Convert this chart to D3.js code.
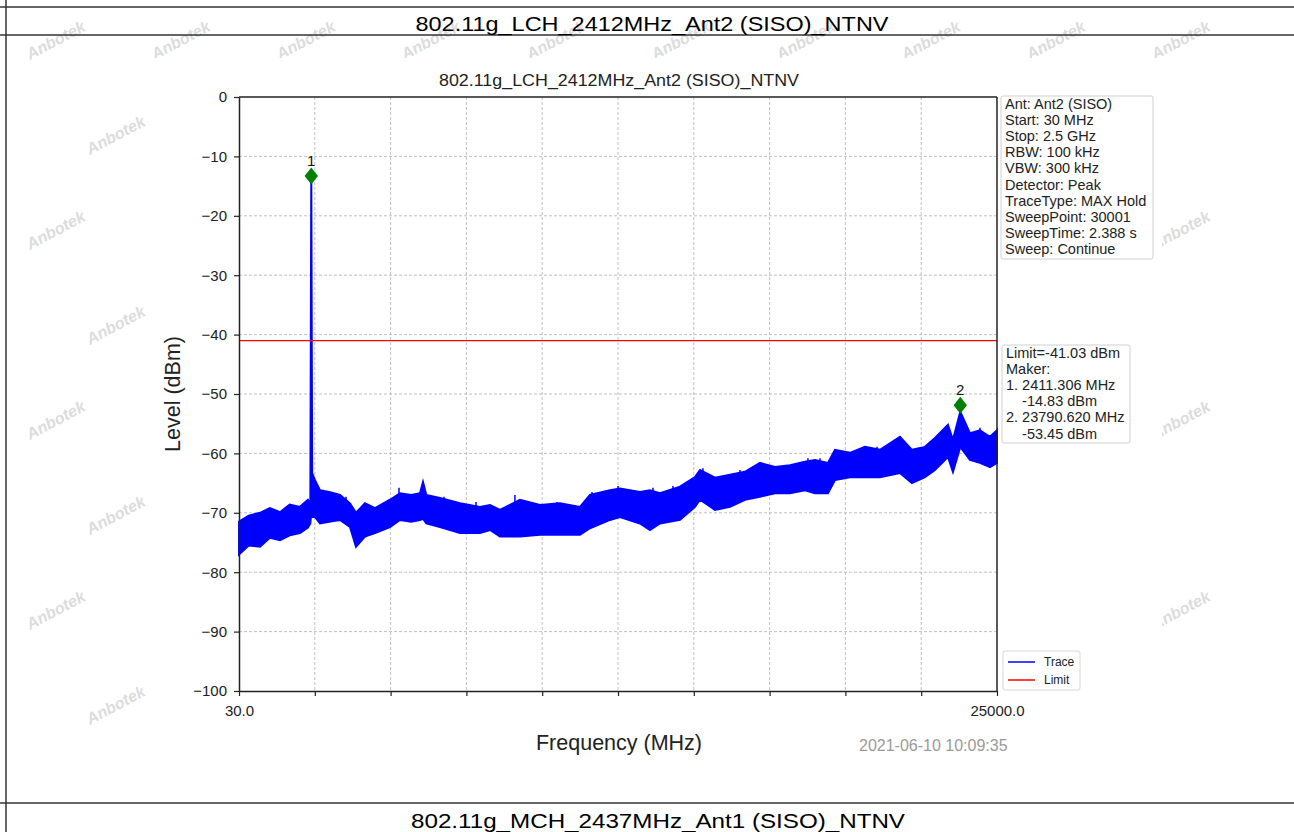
<!DOCTYPE html>
<html>
<head>
<meta charset="utf-8">
<script src="https://cdn.jsdelivr.net/npm/d3@7"></script>
<style>
  body { margin: 0; background: #fff; }
  text { font-family: "Liberation Sans", Arial, sans-serif; }
</style>
</head>
<body>
<div id="container"></div>
<script>
var pageTitle = "802.11g_LCH_2412MHz_Ant2 (SISO)_NTNV";
var nextTitle = "802.11g_MCH_2437MHz_Ant1 (SISO)_NTNV";

// trace envelope (MHz, dBm)
var freqs = [30, 350, 722, 1050, 1381, 1700, 2039, 2300, 2380, 2411, 2440, 2533, 2698, 3000, 3357, 3686, 3884, 4180, 4510, 5004,
  5333, 5700, 5992, 6091, 6200, 6651, 7310, 7969, 8300, 8627, 9286, 9945, 10604, 11263, 11592, 12251, 12580, 13239, 13568, 13898,
  14557, 15051, 15216, 15710, 16204, 16698, 17192, 17686, 18180, 18674, 19003, 19432, 19662, 20156, 20650, 21145, 21803, 22198, 22627, 22956,
  23384, 23549, 23790, 24109, 24439, 24768, 25000];
var upper = [-71.5, -70.5, -70, -69.2, -69.9, -68.6, -69, -67.8, -68.5, -13.3, -63.3, -64.5, -66.2, -66.5, -67, -68.4, -70, -68.4, -69.2, -67.8,
  -66.7, -67, -66.7, -64.8, -67, -67.5, -68.4, -69, -68.7, -69.5, -67.8, -68.7, -68.4, -69, -67, -66.2, -65.9, -66.5, -66.2, -66.7,
  -65.6, -64, -62.8, -64.1, -63.6, -63.1, -61.6, -62.3, -62, -61.4, -61.1, -61.6, -59.4, -59.9, -58.9, -59.4, -57.2, -59.4, -58.9, -57.4,
  -55.2, -57.7, -53, -56.6, -56.1, -57.2, -56.1];
var lower = [-77, -75.5, -75.7, -74.2, -74.6, -73.8, -73.4, -72.5, -71.8, -70, -70.7, -70.7, -71.8, -71.5, -71.2, -72.4, -75.7, -74, -73.4, -72.4,
  -71.2, -71.5, -71.2, -71, -71.8, -72.4, -73.4, -73.4, -72.9, -74, -74, -73.7, -73.7, -73.7, -72.6, -71.2, -70.7, -71.8, -72.9, -71.8,
  -71.2, -69, -67.8, -69.5, -69, -67.8, -67.3, -66.7, -66.7, -66.2, -66.7, -66.7, -64.5, -64, -64, -64, -63.3, -65, -64, -62.8,
  -60.6, -63.1, -58.9, -61.1, -61.6, -62.3, -61.6];

// single noise spikes that stick out of the band
var spikeFreqs = [985, 1578, 2138, 2665, 2995, 3555, 5300, 6783, 7837, 9120, 10505, 11658, 12514, 13667, 14326, 15314, 16533,
  18772, 19168, 21046, 23351, 24439, 24933];
var spikeLevels = [-69.9, -69.6, -68.7, -65.8, -66.7, -67.3, -65.8, -67.3, -68.2, -67, -68.2, -66.5, -65.5, -65.8, -65.5, -62.5, -62.8,
  -60.8, -60.8, -58.9, -55.2, -55.7, -57.2];

var limitLevel = -41.03;
var markerFreqs = [2411.306, 23790.62];
var markerLevels = [-13.3, -51.9];
var markerNames = ["1", "2"];

var yTicks = [-100, -90, -80, -70, -60, -50, -40, -30, -20, -10, 0];
var xTicks = [30, 2527, 5024, 7521, 10018, 12515, 15012, 17509, 20006, 22503, 25000];

var infoLines = ["Ant: Ant2 (SISO)", "Start: 30 MHz", "Stop: 2.5 GHz", "RBW: 100 kHz", "VBW: 300 kHz",
  "Detector: Peak", "TraceType: MAX Hold", "SweepPoint: 30001", "SweepTime: 2.388 s", "Sweep: Continue"];
var markerLines = ["Limit=-41.03 dBm", "Maker:", "1. 2411.306 MHz", "    -14.83 dBm", "2. 23790.620 MHz", "    -53.45 dBm"];
var legendNames = ["Trace", "Limit"];
var legendColors = ["#0000ff", "#ff0000"];
var stamp = "2021-06-10 10:09:35";

var width = 1294,
height = 832;

var svg = d3.select("#container")
.append("svg")
.attr("width", width)
.attr("height", height)
.style("display", "block");

svg.append("rect").attr("width", width).attr("height", height).attr("fill", "#fff");

// watermark (behind the figure)
var wm = svg.append("g").attr("fill", "#dcdcdc");
for (var r = 0; r < 9; r++) {
  for (var c = 0; c < 11; c++) {
    var wx = 30 + c * 125 + (r % 2) * 60;
    var wy = 60 + r * 95;
    if (wx > 1210 || wy > 800) continue;
    wm.append("text")
    .attr("transform", "translate(" + wx + "," + wy + ") rotate(-28)")
    .attr("font-size", 16)
    .attr("font-weight", "bold")
    .attr("font-style", "italic")
    .text("Anbotek");
  }
}

// figure background covers the watermark
svg.append("rect").attr("x", 150).attr("y", 58).attr("width", 1012).attr("height", 710).attr("fill", "#fff");

// table borders
var tb = svg.append("g").attr("stroke", "#333").attr("stroke-width", 1.5);
tb.append("line").attr("x1", 0).attr("x2", width).attr("y1", 7).attr("y2", 7);
tb.append("line").attr("x1", 0).attr("x2", width).attr("y1", 35).attr("y2", 35);
tb.append("line").attr("x1", 0).attr("x2", width).attr("y1", 803).attr("y2", 803);
tb.append("line").attr("x1", 6).attr("x2", 6).attr("y1", 0).attr("y2", height);

svg.append("text").attr("x", 652).attr("y", 31).attr("text-anchor", "middle")
.attr("font-size", 21).attr("textLength", 473).attr("lengthAdjust", "spacingAndGlyphs")
.attr("fill", "#000").text(pageTitle);
svg.append("text").attr("x", 658).attr("y", 828).attr("text-anchor", "middle")
.attr("font-size", 20).attr("textLength", 494).attr("lengthAdjust", "spacingAndGlyphs")
.attr("fill", "#000").text(nextTitle);

// plot
var x = d3.scaleLinear().domain([30, 25000]).range([239, 997]);
var y = d3.scaleLinear().domain([-100, 0]).range([691, 97]);

var grid = svg.append("g");
grid.selectAll("line.gx")
.data(xTicks.slice(1, -1))
.enter()
.append("line")
.attr("x1", function(d) { return x(d); })
.attr("x2", function(d) { return x(d); })
.attr("y1", y(0)).attr("y2", y(-100))
.attr("stroke", "#b0b0b0").attr("stroke-width", 0.8).attr("stroke-dasharray", "3,2");
grid.selectAll("line.gy")
.data(yTicks.slice(1, -1))
.enter()
.append("line")
.attr("x1", x(30)).attr("x2", x(25000))
.attr("y1", function(d) { return y(d); })
.attr("y2", function(d) { return y(d); })
.attr("stroke", "#b0b0b0").attr("stroke-width", 0.8).attr("stroke-dasharray", "3,2");

var trace = freqs.map(function(f, i) { return { f: f, hi: upper[i], lo: lower[i] }; });

var area = d3.area()
.x(function(d) { return x(d.f); })
.y0(function(d) { return y(d.lo); })
.y1(function(d) { return y(d.hi); });

svg.append("path")
.datum(trace)
.attr("d", area)
.attr("fill", "#0000ff")
.attr("stroke", "#0000ff")
.attr("stroke-width", 2)
.attr("stroke-linejoin", "miter");

var lowAt = d3.scaleLinear().domain(freqs).range(lower);
svg.append("g").selectAll("line")
.data(spikeFreqs)
.enter()
.append("line")
.attr("x1", function(d) { return x(d); })
.attr("x2", function(d) { return x(d); })
.attr("y1", function(d) { return y(lowAt(d)); })
.attr("y2", function(d, i) { return y(spikeLevels[i]); })
.attr("stroke", "#0000ff")
.attr("stroke-width", 1.5);

svg.append("line")
.attr("x1", x(30)).attr("x2", x(25000))
.attr("y1", y(limitLevel)).attr("y2", y(limitLevel))
.attr("stroke", "#ff0000").attr("stroke-width", 1.2);

// markers
var mk = svg.append("g");
mk.selectAll("path")
.data(markerFreqs)
.enter()
.append("path")
.attr("d", d3.symbol().type(d3.symbolDiamond).size(85))
.attr("transform", function(d, i) { return "translate(" + x(d) + "," + y(markerLevels[i]) + ") scale(1.35,1)"; })
.attr("fill", "#008000");
mk.selectAll("text")
.data(markerFreqs)
.enter()
.append("text")
.attr("x", function(d) { return x(d); })
.attr("y", function(d, i) { return y(markerLevels[i]) - 10; })
.attr("text-anchor", "middle")
.attr("font-size", 15)
.attr("fill", "#111")
.text(function(d, i) { return markerNames[i]; });

// axes
var xAxis = svg.append("g")
.attr("transform", "translate(0," + y(-100) + ")")
.call(d3.axisBottom(x).tickValues(xTicks).tickSize(5).tickSizeOuter(0)
  .tickFormat(function(d) { return (d === 30 || d === 25000) ? d.toFixed(1) : ""; }));
xAxis.select(".domain").attr("stroke", "#222").attr("stroke-width", 1.5);
xAxis.selectAll(".tick line").attr("stroke", "#222").attr("stroke-width", 1.2);
xAxis.selectAll("text").attr("font-size", 15).attr("fill", "#222").attr("dy", "1.1em")
.attr("font-family", "'Liberation Sans', Arial, sans-serif");

var yAxis = svg.append("g")
.attr("transform", "translate(" + x(30) + ",0)")
.call(d3.axisLeft(y).tickValues(yTicks).tickSize(5).tickSizeOuter(0)
  .tickFormat(function(d) { return d < 0 ? "\u2212" + Math.abs(d) : d; }));
yAxis.select(".domain").attr("stroke", "#222").attr("stroke-width", 1.5);
yAxis.selectAll(".tick line").attr("stroke", "#222").attr("stroke-width", 1.2);
yAxis.selectAll("text").attr("font-size", 15).attr("fill", "#222").attr("x", -12)
.attr("font-family", "'Liberation Sans', Arial, sans-serif");

svg.append("line").attr("x1", x(30)).attr("x2", x(25000)).attr("y1", y(0)).attr("y2", y(0))
.attr("stroke", "#222").attr("stroke-width", 1.5);
svg.append("line").attr("x1", x(25000)).attr("x2", x(25000)).attr("y1", y(0)).attr("y2", y(-100))
.attr("stroke", "#222").attr("stroke-width", 1.5);

svg.append("text").attr("x", 619).attr("y", 86).attr("text-anchor", "middle")
.attr("font-size", 16).attr("textLength", 360).attr("lengthAdjust", "spacingAndGlyphs")
.attr("fill", "#222").text(pageTitle);

svg.append("text").attr("x", 619).attr("y", 750).attr("text-anchor", "middle")
.attr("font-size", 21.5).attr("fill", "#222").text("Frequency (MHz)");
svg.append("text").attr("transform", "translate(180,394) rotate(-90)").attr("text-anchor", "middle")
.attr("font-size", 21.5).attr("fill", "#222").text("Level (dBm)");
svg.append("text").attr("x", 859).attr("y", 751)
.attr("font-size", 16).attr("fill", "#9a9a9a").text(stamp);

// info boxes
function textBox(lines, bx, by, bw, bh) {
  var g = svg.append("g");
  g.append("rect").attr("x", bx).attr("y", by).attr("width", bw).attr("height", bh)
  .attr("rx", 2).attr("fill", "#fff").attr("stroke", "#d0d0d0").attr("stroke-width", 1);
  g.selectAll("text")
  .data(lines)
  .enter()
  .append("text")
  .attr("x", bx + 4)
  .attr("y", function(d, i) { return by + 13 + i * 16.1; })
  .attr("font-size", 14.5)
  .attr("fill", "#222")
  .attr("xml:space", "preserve")
  .style("white-space", "pre")
  .text(function(d) { return d; });
}
textBox(infoLines, 1001, 96, 152, 163);
textBox(markerLines, 1002, 345, 128, 98);

// legend
var lg = svg.append("g");
lg.append("rect").attr("x", 1003).attr("y", 651).attr("width", 77).attr("height", 39)
.attr("rx", 2).attr("fill", "#fff").attr("stroke", "#d8d8d8");
lg.selectAll("line")
.data(legendNames)
.enter()
.append("line")
.attr("x1", 1008).attr("x2", 1035)
.attr("y1", function(d, i) { return 662 + i * 18; })
.attr("y2", function(d, i) { return 662 + i * 18; })
.attr("stroke", function(d, i) { return legendColors[i]; })
.attr("stroke-width", 1.5);
lg.selectAll("text")
.data(legendNames)
.enter()
.append("text")
.attr("x", 1044)
.attr("y", function(d, i) { return 666 + i * 18; })
.attr("font-size", 12)
.attr("fill", "#222")
.text(function(d) { return d; });
</script>
</body>
</html>
